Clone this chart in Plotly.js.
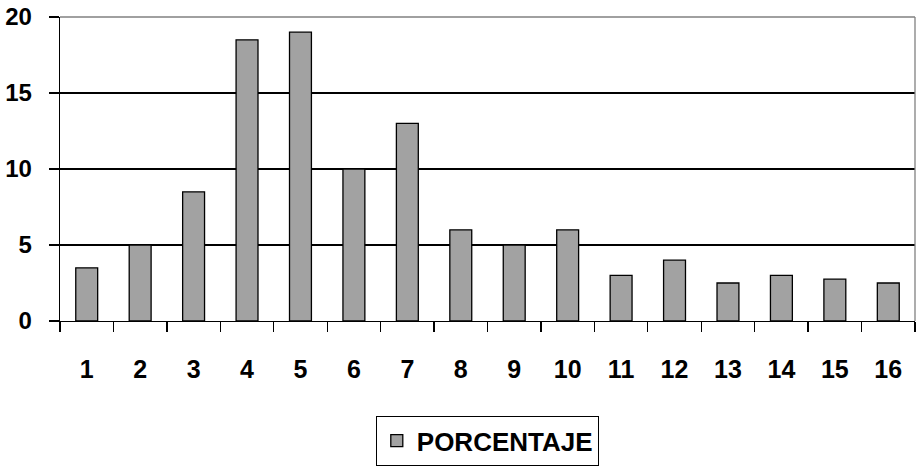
<!DOCTYPE html>
<html>
<head>
<meta charset="utf-8">
<script src="https://cdn.plot.ly/plotly-3.0.1.min.js"></script>
<style>
html,body{margin:0;padding:0;background:#fff;}
#chart{width:916px;height:470px;}
</style>
</head>
<body>
<div id="chart"></div>
<script>
var categories = ["1","2","3","4","5","6","7","8","9","10","11","12","13","14","15","16"];
var porcentaje = [3.5, 5, 8.5, 18.5, 19, 10, 13, 6, 5, 6, 3, 4, 2.5, 3, 2.75, 2.5];
var seriesName = "PORCENTAJE";
var yTicks = [0, 5, 10, 15, 20];

var FONT = "Arial, 'Liberation Sans', sans-serif";

var trace = {
  type: "bar",
  x: categories,
  y: porcentaje,
  name: seriesName,
  marker: {color: "#a2a2a2", line: {color: "#000000", width: 1.3}},
  hoverinfo: "x+y",
  showlegend: true
};

var layout = {
  width: 916,
  height: 470,
  margin: {l: 60, r: 1, t: 17, b: 149},
  paper_bgcolor: "#ffffff",
  plot_bgcolor: "#ffffff",
  font: {family: FONT, color: "#000000"},
  bargap: 0.59,
  showlegend: true,
  xaxis: {
    type: "category",
    tickson: "boundaries",
    ticks: "outside",
    ticklen: 10,
    tickwidth: 1.3,
    tickcolor: "#000000",
    showline: true,
    linecolor: "#000000",
    linewidth: 1.3,
    showgrid: false,
    zeroline: false,
    ticklabelstandoff: 26,
    tickfont: {family: FONT, size: 25, color: "#000000", weight: "bold"}
  },
  yaxis: {
    range: [0, 20],
    tickmode: "array",
    tickvals: yTicks,
    ticktext: yTicks.map(String),
    ticks: "outside",
    ticklen: 10,
    tickwidth: 1.3,
    tickcolor: "#000000",
    showline: true,
    linecolor: "#000000",
    linewidth: 1.3,
    showgrid: true,
    gridcolor: "#000000",
    gridwidth: 1.3,
    zeroline: false,
    ticklabelstandoff: 12,
    tickfont: {family: FONT, size: 24, color: "#000000", weight: "bold"}
  },
  legend: {
    orientation: "h",
    x: 0.5,
    xanchor: "center",
    y: -0.312,
    yanchor: "top",
    bordercolor: "#000000",
    borderwidth: 1.3,
    bgcolor: "#ffffff",
    itemwidth: 30,
    font: {family: FONT, size: 26, color: "#000000", weight: "bold"}
  },
  shapes: [
    {type: "line", xref: "paper", yref: "paper", x0: 0, x1: 1, y0: 1, y1: 1,
     line: {color: "#808080", width: 1.3}},
    {type: "line", xref: "paper", yref: "paper", x0: 1, x1: 1, y0: 0, y1: 1,
     line: {color: "#808080", width: 1.3}}
  ]
};

Plotly.newPlot("chart", [trace], layout, {displayModeBar: false, staticPlot: true});
</script>
</body>
</html>
